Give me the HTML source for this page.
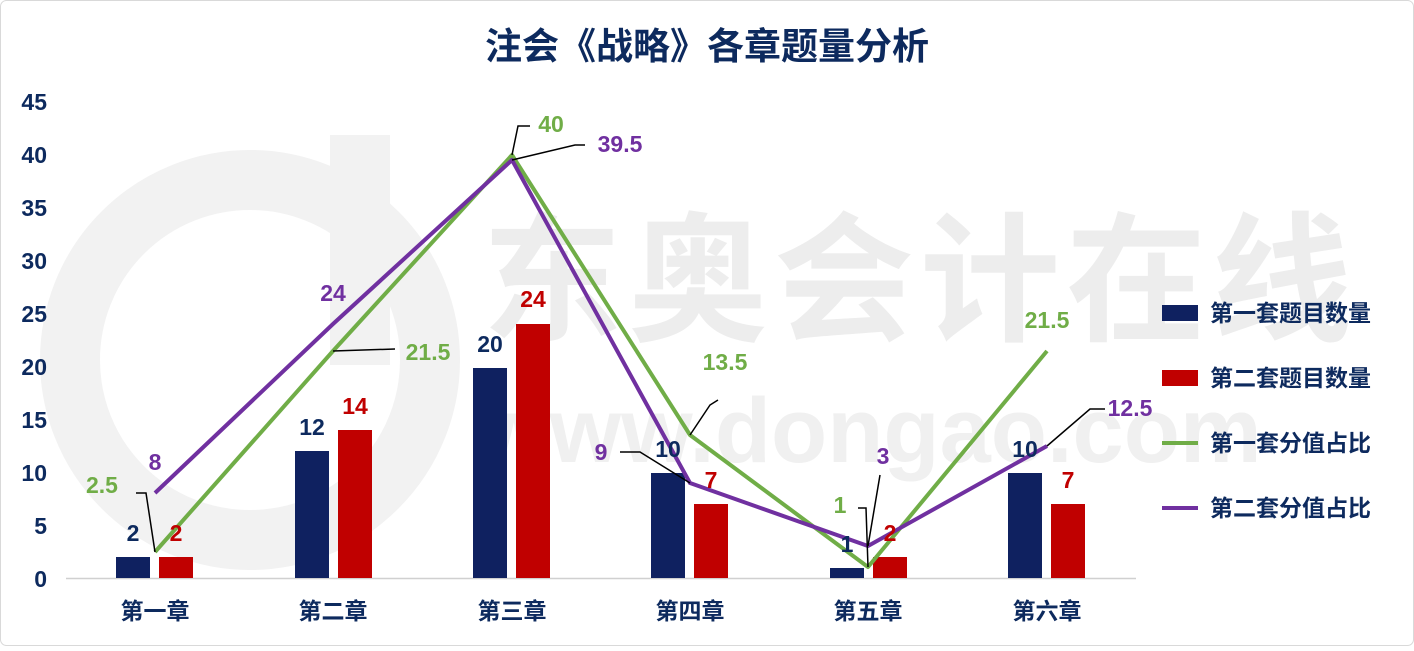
<!DOCTYPE html>
<html><head><meta charset="utf-8"><style>
html,body{margin:0;padding:0;background:#fff}
svg text{font-family:"Liberation Sans","Noto Sans CJK SC",sans-serif;font-weight:bold}
</style></head><body>
<svg width="1414" height="646" viewBox="0 0 1414 646" xmlns="http://www.w3.org/2000/svg">
<rect x="0.5" y="0.5" width="1413" height="645" rx="6" fill="#fff" stroke="#d9d9d9"/>
<g>
<circle cx="250" cy="360" r="180" fill="none" stroke="#f2f2f2" stroke-width="60"/>
<rect x="330" y="135" width="60" height="230" fill="#f2f2f2"/>
<text x="482" y="330" font-size="140" fill="#ededed" textLength="870">东奥会计在线</text>
<text x="478" y="462" font-size="92" fill="#f0f0f0">www.dongao.com</text>
</g>
<text x="707" y="59" text-anchor="middle" font-size="37" fill="#0d2a5e">注会《战略》各章题量分析</text>
<g font-size="23" fill="#0d2a5e" text-anchor="end">
<text x="47" y="587">0</text><text x="47" y="534">5</text><text x="47" y="481">10</text>
<text x="47" y="428">15</text><text x="47" y="375">20</text><text x="47" y="322">25</text>
<text x="47" y="269">30</text><text x="47" y="216">35</text><text x="47" y="163">40</text>
<text x="47" y="110">45</text>
</g>
<line x1="66" y1="578.5" x2="1136" y2="578.5" stroke="#d0d0d0" stroke-width="1.5"/>
<g fill="#0f2160">
<rect x="116" y="557" width="34" height="21"/>
<rect x="295" y="451" width="34" height="127"/>
<rect x="473" y="368" width="34" height="210"/>
<rect x="651" y="473" width="34" height="105"/>
<rect x="830" y="568" width="34" height="10"/>
<rect x="1008" y="473" width="34" height="105"/>
</g>
<g fill="#c00000">
<rect x="159" y="557" width="34" height="21"/>
<rect x="338" y="430" width="34" height="148"/>
<rect x="516" y="324" width="34" height="254"/>
<rect x="694" y="504" width="34" height="74"/>
<rect x="873" y="557" width="34" height="21"/>
<rect x="1051" y="504" width="34" height="74"/>
</g>
<g font-size="23" fill="#0d2a5e" text-anchor="middle">
<text x="155" y="619">第一章</text><text x="333" y="619">第二章</text><text x="512" y="619">第三章</text>
<text x="690" y="619">第四章</text><text x="868" y="619">第五章</text><text x="1047" y="619">第六章</text>
</g>
<polyline points="155,552 333,351 512,155 690,435 868,567 1047,351" fill="none" stroke="#70ad47" stroke-width="4" stroke-linejoin="round"/>
<polyline points="155,493 333,324 512,160 690,483 868,546 1047,446" fill="none" stroke="#7030a0" stroke-width="4" stroke-linejoin="round"/>
<g stroke="#000" stroke-width="1.5" fill="none">
<polyline points="136,493 146,493 155,552"/>
<polyline points="333,351 395,349"/>
<polyline points="512,155 518,126 530,126"/>
<polyline points="512,160 575,145 585,145"/>
<polyline points="690,435 710,405 718,400"/>
<polyline points="620,452 640,452 690,483"/>
<polyline points="858,508 866,508 868,567"/>
<polyline points="868,546 880,475"/>
<polyline points="1047,446 1090,409 1105,409"/>
</g>
<g font-size="23" text-anchor="middle">
<g fill="#0d2a5e">
<text x="133" y="541">2</text><text x="312" y="435">12</text><text x="490" y="352">20</text>
<text x="668" y="457">10</text><text x="847" y="552">1</text><text x="1025" y="457">10</text>
</g>
<g fill="#c00000">
<text x="176" y="541">2</text><text x="355" y="414">14</text><text x="533" y="307">24</text>
<text x="711" y="488">7</text><text x="890" y="541">2</text><text x="1068" y="488">7</text>
</g>
<g fill="#70ad47">
<text x="102" y="493">2.5</text><text x="428" y="360">21.5</text><text x="551" y="132">40</text>
<text x="725" y="370">13.5</text><text x="840" y="513">1</text><text x="1047" y="328">21.5</text>
</g>
<g fill="#7030a0">
<text x="155" y="470">8</text><text x="333" y="301">24</text><text x="620" y="152">39.5</text>
<text x="601" y="460">9</text><text x="883" y="464">3</text><text x="1130" y="416">12.5</text>
</g>
</g>
<g font-size="23" fill="#0d2a5e">
<rect x="1162" y="305" width="36" height="16" fill="#0f2160"/><text x="1210" y="321">第一套题目数量</text>
<rect x="1162" y="370" width="36" height="16" fill="#c00000"/><text x="1210" y="386">第二套题目数量</text>
<line x1="1162" y1="443" x2="1198" y2="443" stroke="#70ad47" stroke-width="4"/><text x="1210" y="451">第一套分值占比</text>
<line x1="1162" y1="508" x2="1198" y2="508" stroke="#7030a0" stroke-width="4"/><text x="1210" y="516">第二套分值占比</text>
</g>
</svg>
</body></html>
